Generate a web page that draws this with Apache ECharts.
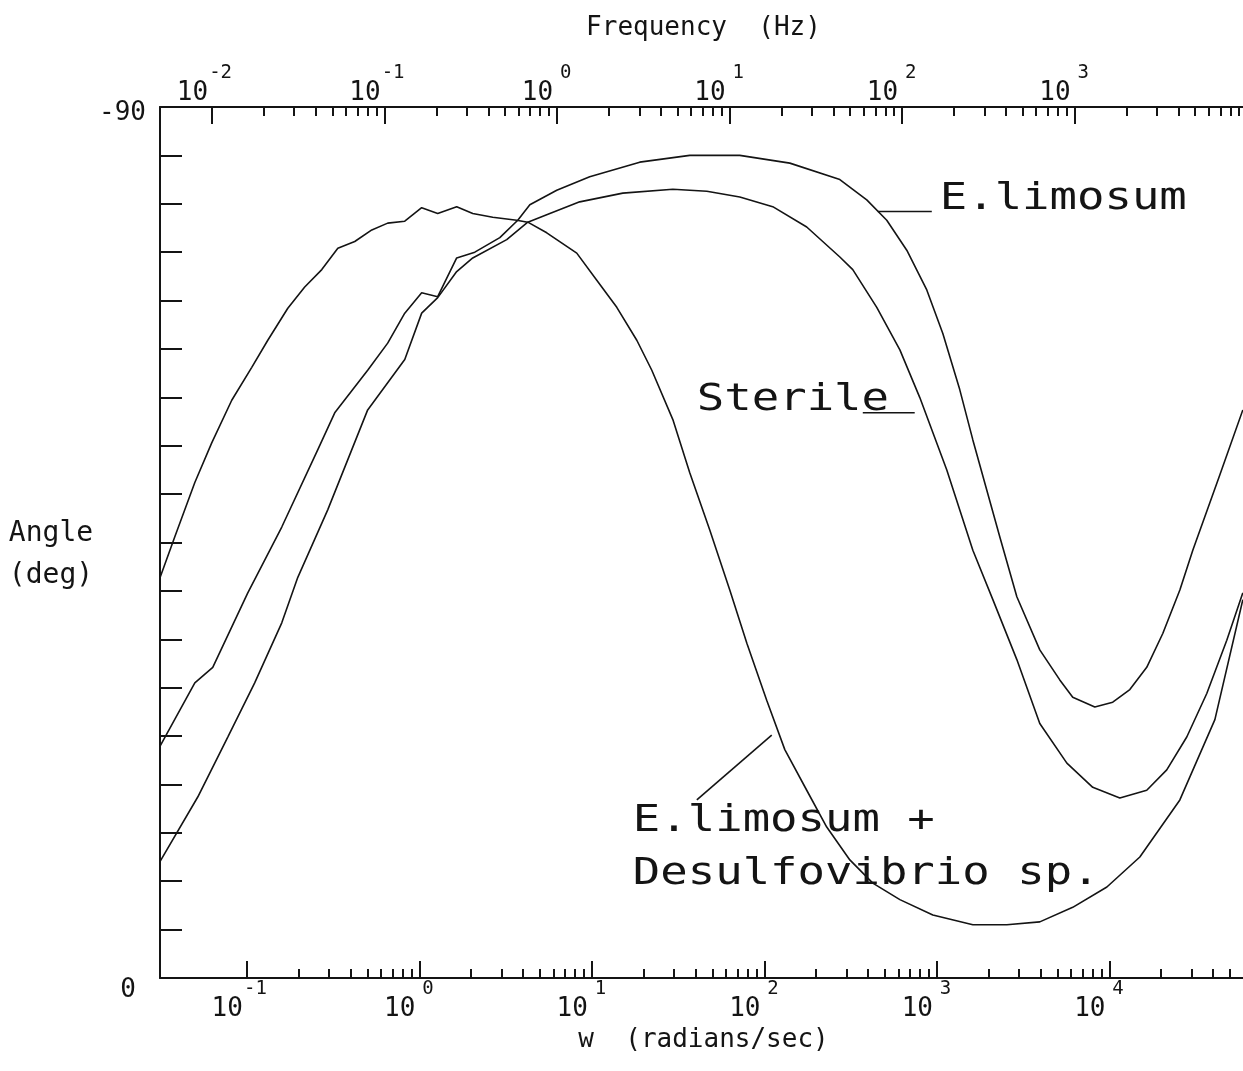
<!DOCTYPE html>
<html>
<head>
<meta charset="utf-8">
<title>Phase angle vs frequency</title>
<script src="https://cdn.jsdelivr.net/npm/echarts@6/dist/echarts.min.js"></script>
<style>
  html, body { margin: 0; background: #fff; }
  #main { width: 1243px; height: 1071px; }
</style>
</head>
<body>
<div id="main"></div>
<script>
// x values are log10(w), w in radians/sec ; phase angle in degrees
var elimLogW = [-1.504, -1.301, -1.197, -0.994, -0.797, -0.588, -0.490, -0.299, -0.183, -0.084,
    0.014, 0.107, 0.217, 0.322, 0.467, 0.571, 0.641, 0.797, 0.988, 1.278,
    1.568, 1.858, 2.148, 2.438, 2.594, 2.710, 2.826, 2.942, 3.035, 3.133,
    3.209, 3.290, 3.365, 3.464, 3.597, 3.713, 3.788, 3.916, 4.020, 4.119,
    4.217, 4.310, 4.409, 4.484, 4.641, 4.774];
var elimPhase = [-23.9, -30.5, -32.1, -39.8, -46.6, -54.6, -58.4, -62.8, -65.6, -68.7,
    -70.8, -70.4, -74.4, -75.0, -76.5, -78.3, -79.9, -81.4, -82.8, -84.3,
    -85.0, -85.0, -84.2, -82.5, -80.4, -78.3, -75.2, -71.1, -66.6, -60.8,
    -55.6, -50.4, -45.6, -39.4, -33.9, -30.8, -29.0, -28.0, -28.5, -29.8,
    -32.1, -35.6, -40.1, -44.2, -52.0, -58.7];

var sterLogW = [-1.504, -1.284, -1.110, -0.954, -0.797, -0.704, -0.530, -0.391, -0.299, -0.084,
    0.014, 0.107, 0.217, 0.310, 0.507, 0.629, 0.757, 0.930, 1.180, 1.470,
    1.667, 1.858, 2.049, 2.246, 2.438, 2.513, 2.652, 2.786, 2.901, 3.058,
    3.209, 3.325, 3.464, 3.597, 3.754, 3.904, 4.061, 4.217, 4.333, 4.449,
    4.565, 4.681, 4.774];
var sterPhase = [-12.0, -18.7, -24.9, -30.5, -36.7, -41.4, -48.4, -54.6, -58.7, -63.9,
    -68.7, -70.3, -73.0, -74.4, -76.3, -78.1, -79.0, -80.2, -81.1, -81.5,
    -81.3, -80.7, -79.7, -77.6, -74.5, -73.2, -69.3, -64.9, -60.0, -52.5,
    -44.2, -39.1, -32.9, -26.3, -22.2, -19.7, -18.6, -19.4, -21.5, -24.9,
    -29.4, -34.9, -39.8];

var mixLogW = [-1.504, -1.417, -1.301, -1.203, -1.087, -0.971, -0.878, -0.762, -0.664, -0.565,
    -0.472, -0.374, -0.275, -0.183, -0.084, 0.014, 0.107, 0.217, 0.310, 0.426,
    0.565, 0.629, 0.739, 0.913, 1.029, 1.145, 1.261, 1.348, 1.470, 1.568,
    1.684, 1.800, 1.899, 2.014, 2.119, 2.246, 2.362, 2.496, 2.629, 2.786,
    2.977, 3.209, 3.406, 3.597, 3.788, 3.986, 4.177, 4.409, 4.612, 4.774];
var mixPhase = [-41.3, -45.6, -51.2, -55.3, -59.7, -63.1, -65.9, -69.2, -71.4, -73.2,
    -75.4, -76.1, -77.3, -78.0, -78.2, -79.6, -79.0, -79.7, -79.0, -78.6,
    -78.3, -78.1, -77.0, -74.9, -72.1, -69.3, -65.9, -62.8, -57.7, -52.2,
    -46.3, -40.1, -34.6, -28.7, -23.6, -19.4, -15.6, -12.2, -9.8, -8.1,
    -6.5, -5.5, -5.5, -5.8, -7.3, -9.4, -12.5, -18.4, -26.7, -39.1];

// axis ranges: 0.005 Hz .. 1e4 Hz
var LOG_2PI = Math.log10(2 * Math.PI);
var logFMin = Math.log10(0.005), logFMax = 4;
var logWMin = logFMin + LOG_2PI, logWMax = logFMax + LOG_2PI;

var wMajors = [0.1, 1, 10, 100, 1000, 10000];
var fMajors = [0.01, 0.1, 1, 10, 100, 1000];

var MONO = '"DejaVu Sans Mono", "Liberation Mono", monospace';
var INK = '#141414';

function pairs(xs, ys) {
    return xs.map(function (x, i) { return [x, ys[i]]; });
}
function logs(arr) {
    return arr.map(function (v) { return Math.log10(v); });
}
// 2..9 subdivisions, only after the first labelled decade (as the plotter drew them)
function minorTicks(majors, hi) {
    var out = [];
    var d = majors[0];
    while (Math.log10(d) < hi) {
        for (var k = 2; k <= 9; k++) {
            var v = Math.log10(k * d);
            if (v < hi) out.push(v);
        }
        d *= 10;
    }
    return out;
}

var decadeLabel = {
    fontFamily: MONO,
    color: INK,
    formatter: function (v) {
        return '{b|10}{s|' + Math.round(v) + '}{p|}';
    },
    rich: {
        b: { fontSize: 26, fontFamily: MONO, color: INK, lineHeight: 42, verticalAlign: 'bottom' },
        s: { fontSize: 19, fontFamily: MONO, color: INK, lineHeight: 19, verticalAlign: 'top', width: 25, align: 'left' },
        p: { width: 14, lineHeight: 19 }
    }
};

function majorAxis(pos, min, max, vals, margin, name, nameGap) {
    var lbl = Object.assign({}, decadeLabel, { customValues: vals, margin: margin });
    return {
        type: 'value', position: pos, min: min, max: max,
        name: name, nameLocation: 'middle', nameGap: nameGap,
        nameTextStyle: { fontFamily: MONO, fontSize: 26, color: INK },
        axisLine: { show: true, onZero: false, lineStyle: { color: INK, width: 2 } },
        axisTick: { show: true, inside: true, length: 17, customValues: vals, lineStyle: { color: INK, width: 2 } },
        axisLabel: lbl,
        splitLine: { show: false }
    };
}
function minorAxis(pos, min, max, vals) {
    return {
        type: 'value', position: pos, min: min, max: max,
        axisLine: { show: false, onZero: false },
        axisTick: { show: true, inside: true, length: 9, customValues: vals, lineStyle: { color: INK, width: 2 } },
        axisLabel: { show: false },
        splitLine: { show: false }
    };
}

var curveStyle = { color: INK, width: 1.6 };
function curve(name, xs, ys) {
    return {
        name: name, type: 'line', xAxisIndex: 0, yAxisIndex: 0,
        data: pairs(xs, ys), showSymbol: false, symbol: 'none',
        lineStyle: curveStyle, silent: true
    };
}

var chart = echarts.init(document.getElementById('main'));

var option = {
    animation: false,
    backgroundColor: '#fff',
    grid: { left: 160, right: -4, top: 107, bottom: 93, containLabel: false, outerBoundsMode: 'none' },
    xAxis: [
        majorAxis('bottom', logWMin, logWMax, logs(wMajors), 2, 'w  (radians/sec)', 48),
        minorAxis('bottom', logWMin, logWMax, minorTicks(wMajors, logWMax)),
        majorAxis('top', logFMin, logFMax, logs(fMajors), 1, 'Frequency  (Hz)', 66),
        minorAxis('top', logFMin, logFMax, minorTicks(fMajors, logFMax))
    ],
    yAxis: {
        type: 'value', min: -90, max: 0, interval: 5, inverse: true,
        name: '{g| }\nAngle\n(deg)', nameLocation: 'middle', nameGap: 58, nameRotate: 0,
        nameTextStyle: {
            fontFamily: MONO, fontSize: 28, color: INK, lineHeight: 42,
            rich: { g: { fontSize: 2, lineHeight: 24 } }
        },
        axisLine: { show: true, onZero: false, lineStyle: { color: INK, width: 2 } },
        axisTick: { show: true, inside: true, length: 22, lineStyle: { color: INK, width: 2 } },
        axisLabel: {
            customValues: [-90, 0], margin: 14,
            formatter: function (v) { return v === 0 ? '{z|0}' : '{n|' + v + '}'; },
            rich: {
                n: { fontSize: 26, fontFamily: MONO, color: INK, padding: [12, 0, 0, 0] },
                z: { fontSize: 26, fontFamily: MONO, color: INK, padding: [24, 10, 0, 0] }
            }
        },
        splitLine: { show: false }
    },
    series: [
        curve('E.limosum', elimLogW, elimPhase),
        curve('Sterile', sterLogW, sterPhase),
        curve('E.limosum + Desulfovibrio sp.', mixLogW, mixPhase)
    ]
};
chart.setOption(option);

// curve labels and leader lines, anchored in data space
function px(p) { return chart.convertToPixel({ seriesIndex: 0 }, p); }

var notes = [
    { text: 'E.limosum', at: [3.017, -80.5] },
    { text: 'Sterile', at: [1.609, -59.7] },
    { text: 'E.limosum +', at: [1.238, -16.2] },
    { text: 'Desulfovibrio sp.', at: [1.238, -10.7] }
];
var leaders = [
    [[2.658, -79.2], [2.971, -79.2]],
    [[2.571, -58.4], [2.872, -58.4]],
    [[1.609, -18.4], [2.043, -25.1]]
];

var graphics = [];
notes.forEach(function (n) {
    var p = px(n.at);
    graphics.push({
        type: 'text', x: p[0], y: p[1], scaleX: 1.2, silent: true,
        style: { text: n.text, font: '38px ' + MONO, fill: INK, align: 'left', verticalAlign: 'middle' }
    });
});
leaders.forEach(function (l) {
    var a = px(l[0]), b = px(l[1]);
    graphics.push({
        type: 'line', silent: true,
        shape: { x1: a[0], y1: a[1], x2: b[0], y2: b[1] },
        style: { stroke: INK, lineWidth: 1.6 }
    });
});
chart.setOption({ graphic: graphics });
</script>
</body>
</html>
